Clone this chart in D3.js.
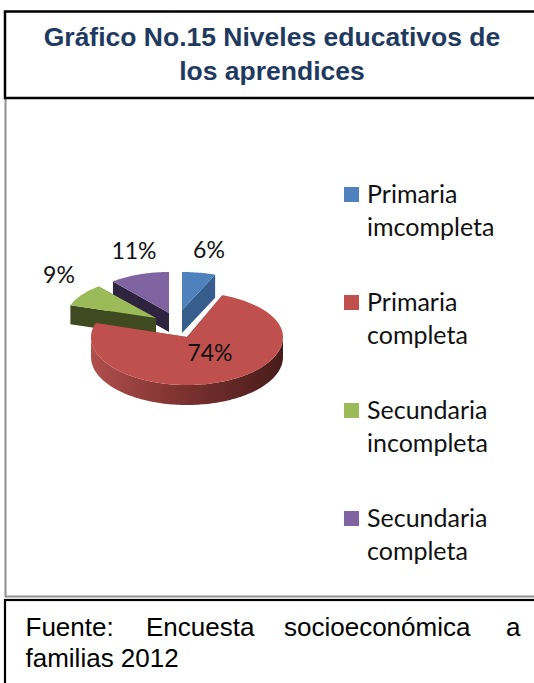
<!DOCTYPE html>
<meta charset="utf-8">
<title>Niveles educativos de los aprendices</title>
<style>
  html, body { margin: 0; background: #fff; }
  svg { display: block; }
  .title { font: bold 26.5px "Liberation Sans", Arial, sans-serif; fill: #1f3a60; text-anchor: middle; }
  .source { font: 26px "Liberation Sans", Arial, sans-serif; fill: #000; }
  .legend { font: 25px "Lato", sans-serif; fill: #111; }
  .pct { font: 23px "Lato", sans-serif; fill: #111; text-anchor: middle; }
</style>
<body>
<script src="https://cdn.jsdelivr.net/npm/d3@7"></script>
<script>
  // data
  var categories = ["Primaria imcompleta", "Primaria completa", "Secundaria incompleta", "Secundaria completa"];
  var percents = [6, 74, 9, 11];
  var legendLines = [["Primaria", "imcompleta"], ["Primaria", "completa"], ["Secundaria", "incompleta"], ["Secundaria", "completa"]];
  var titleLines = ["Gráfico No.15 Niveles educativos de", "los aprendices"];

  // colours
  var topColors = ["#4f81bd", "#c0504d", "#9bbb59", "#8064a2"];
  var wallColors = ["#375d8c", "#8a3a38", "#3f4a20", "#2f2440"];

  // pie layout: each slice is pulled out on its own
  var sliceX = [182, 187, 156, 169],
      sliceY = [310, 337, 318, 313],
      sliceRx = [90, 96, 90, 88],
      sliceFar = [38, 45, 41, 41],   // vertical radius behind the centre
      sliceNear = [38, 48, 41, 41],  // vertical radius in front of the centre
      depth = [23, 20, 19, 19];

  var width = 534, height = 683;

  var svg = d3.select("body").append("svg")
    .attr("width", width)
    .attr("height", height);

  var defs = svg.append("defs");
  var rim = defs.append("linearGradient").attr("id", "rim");
  rim.append("stop").attr("offset", "0%").attr("stop-color", "#b04f4c");
  rim.append("stop").attr("offset", "45%").attr("stop-color", "#7f3331");
  rim.append("stop").attr("offset", "100%").attr("stop-color", "#471c1b");

  // frames
  svg.append("rect").attr("x", 5.5).attr("y", 90).attr("width", width).attr("height", 506.5)
    .attr("fill", "#fff").attr("stroke", "#909090").attr("stroke-width", 2);
  svg.append("rect").attr("x", 5).attr("y", 11.5).attr("width", width).attr("height", 86.5)
    .attr("fill", "#fff").attr("stroke", "#000").attr("stroke-width", 2.5);
  svg.append("rect").attr("x", 5).attr("y", 600).attr("width", width).attr("height", 100)
    .attr("fill", "#fff").attr("stroke", "#000").attr("stroke-width", 2.2);

  svg.selectAll(".title").data(titleLines).enter().append("text")
    .attr("class", "title")
    .attr("x", 272)
    .attr("y", function(d, i) { return 46 + i * 33.5; })
    .text(function(d) { return d; });

  // justified first line, as in the document
  var sourceWords = ["Fuente:", "Encuesta", "socioeconómica", "a"];
  var sourceStarts = [25.5, 146, 284, 506];
  svg.selectAll(".source").data(sourceWords).enter().append("text")
    .attr("class", "source")
    .attr("x", function(d, i) { return sourceStarts[i]; })
    .attr("y", 636)
    .text(function(d) { return d; });
  svg.append("text").attr("class", "source").attr("x", 25.5).attr("y", 667).text("familias 2012");

  // pie angles, clockwise from the top
  var pie = d3.pie().sort(null).value(function(d) { return d; });
  var arcs = pie(percents);

  function project(i, a, drop) {
    var c = Math.cos(a);
    return [
      sliceX[i] + sliceRx[i] * Math.sin(a),
      sliceY[i] - (c > 0 ? sliceFar[i] : sliceNear[i]) * c + (drop || 0)
    ];
  }

  function rimPoints(i, drop) {
    var a0 = arcs[i].startAngle, a1 = arcs[i].endAngle;
    var n = Math.ceil((a1 - a0) * 40);
    return d3.range(n + 1).map(function(k) { return project(i, a0 + (a1 - a0) * k / n, drop); });
  }

  var line = d3.line();

  function drawSlice(i) {
    var g = svg.append("g");
    var apex = [sliceX[i], sliceY[i]], low = [sliceX[i], sliceY[i] + depth[i]];
    var a0 = arcs[i].startAngle, a1 = arcs[i].endAngle;

    // flat cut faces
    [a0, a1].forEach(function(a) {
      g.append("path")
        .attr("d", line([apex, project(i, a), project(i, a, depth[i]), low]) + "Z")
        .attr("fill", wallColors[i]);
    });

    // outer rim, only the front part can be seen
    var vis = rimPoints(i, 0).filter(function(p) { return p[1] >= sliceY[i]; });
    if (vis.length > 1) {
      var lower = vis.map(function(p) { return [p[0], p[1] + depth[i]]; }).reverse();
      g.append("path")
        .attr("d", line(vis.concat(lower)) + "Z")
        .attr("fill", i === 1 ? "url(#rim)" : wallColors[i]);
    }

    // top face
    g.append("path")
      .attr("d", line([apex].concat(rimPoints(i, 0))) + "Z")
      .attr("fill", topColors[i]);
  }

  // back to front
  [0, 3, 2, 1].forEach(drawSlice);

  // data labels
  var labelX = [209, 210, 59, 134],
      labelY = [258, 361, 283, 259];
  svg.selectAll(".pct").data(percents).enter().append("text")
    .attr("class", "pct")
    .attr("x", function(d, i) { return labelX[i]; })
    .attr("y", function(d, i) { return labelY[i]; })
    .text(function(d) { return d + "%"; });

  // legend
  var legendY = d3.scalePoint().domain(categories).range([187, 511]);
  var legend = svg.selectAll(".legend-item").data(categories).enter().append("g")
    .attr("class", "legend-item")
    .attr("transform", function(d) { return "translate(344," + legendY(d) + ")"; });
  legend.append("rect").attr("width", 15).attr("height", 15)
    .attr("fill", function(d, i) { return topColors[i]; });
  legend.each(function(d, i) {
    d3.select(this).selectAll("text").data(legendLines[i]).enter().append("text")
      .attr("class", "legend")
      .attr("x", 23)
      .attr("y", function(t, k) { return 16 + k * 33; })
      .text(function(t) { return t; });
  });
</script>
</body>
